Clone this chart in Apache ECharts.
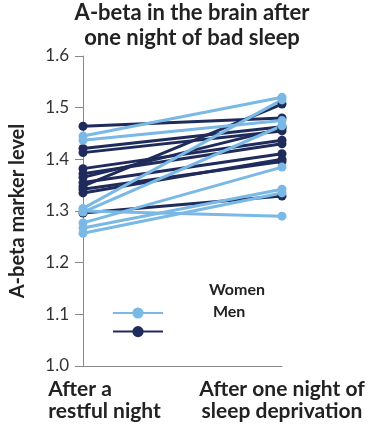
<!DOCTYPE html>
<html><head><meta charset="utf-8">
<script src="https://cdn.jsdelivr.net/npm/echarts@6/dist/echarts.min.js"></script>
<style>html,body{margin:0;padding:0;background:#fff}#c{width:370px;height:425px}</style>
</head><body><div id="c"></div>
<script>
const categories = ['After a\nrestful night', 'After one night of\nsleep deprivation'];
const yTicks = { min: 1.0, max: 1.6, step: 0.1 };
const womenBefore = [1.445, 1.437, 1.298, 1.305, 1.300, 1.277, 1.267, 1.257];
const womenAfter  = [1.520, 1.475, 1.465, 1.515, 1.290, 1.385, 1.342, 1.335];
const menBefore = [1.464, 1.421, 1.413, 1.382, 1.372, 1.365, 1.355, 1.348, 1.342, 1.335, 1.296];
const menAfter  = [1.480, 1.463, 1.455, 1.437, 1.430, 1.460, 1.411, 1.507, 1.396, 1.400, 1.329];

const LIGHT = '#7ab8e6', DARK = '#1f2b5b';
const FONT = 'Lato';

function mkSeries(name, color, before, after) {
  return before.map((b, i) => ({
    name: name, type: 'line', data: [b, after[i]],
    symbol: 'circle', symbolSize: 9, showSymbol: true,
    lineStyle: { color: color, width: 3 },
    itemStyle: { color: color },
    emphasis: { disabled: true }, animation: false
  }));
}

const chart = echarts.init(document.getElementById('c'), null, { renderer: 'canvas' });
chart.setOption({
  animation: false,
  title: {
    text: 'A-beta in the brain after\none night of bad sleep',
    left: 187, top: -5, textAlign: 'center',
    textStyle: { fontFamily: FONT, fontWeight: 'bold', fontSize: 22, color: '#222', lineHeight: 25 }
  },
  grid: { left: 82, right: 88, top: 56, bottom: 59, containLabel: false },
  legend: [
    { data: ['Women', 'Men'], orient: 'vertical', left: 107, top: 301, itemWidth: 50, itemHeight: 14,
      itemGap: 6, formatter: () => '', selectedMode: false, textStyle: { fontSize: 1 } },
    { data: ['Women', 'Men'], orient: 'vertical', left: 199, top: 277, itemWidth: 0, itemHeight: 14,
      itemGap: 6, icon: 'none', selectedMode: false,
      formatter: (n) => n === 'Men' ? ' ' + n : n,
      textStyle: { fontFamily: FONT, fontWeight: 'bold', fontSize: 16, color: '#222' } }
  ],
  xAxis: {
    type: 'category', boundaryGap: false,
    data: categories.map((c, i) => i === 0 ? { value: c, textStyle: { padding: [0, 0, 0, 43] } } : c),
    axisLine: { lineStyle: { color: '#888', width: 1 } },
    axisTick: { show: false },
    axisLabel: {
      margin: 12, interval: 0,
      formatter: (v, i) => i === 0 ? v.split('\n').map(s => '{l|' + s + '}').join('\n') : v,
      fontFamily: FONT, fontWeight: 'bold', fontSize: 21, color: '#222', lineHeight: 22,
      rich: { l: { align: 'left', fontFamily: FONT, fontWeight: 'bold', fontSize: 21, color: '#222', lineHeight: 22 } }
    }
  },
  yAxis: {
    type: 'value', min: yTicks.min, max: yTicks.max, interval: yTicks.step,
    name: 'A-beta marker level', nameLocation: 'middle', nameGap: 55,
    nameTextStyle: { fontFamily: FONT, fontWeight: 'bold', fontSize: 20, color: '#222' },
    axisLine: { show: true, lineStyle: { color: '#888', width: 1 } },
    axisTick: { show: true, length: 8, lineStyle: { color: '#888' } },
    splitLine: { show: false },
    axisLabel: { margin: 14, formatter: v => v.toFixed(1), fontFamily: FONT, fontSize: 17, color: '#333' }
  },
  series: [].concat(mkSeries('Men', DARK, menBefore, menAfter), mkSeries('Women', LIGHT, womenBefore, womenAfter))
});
</script></body></html>
